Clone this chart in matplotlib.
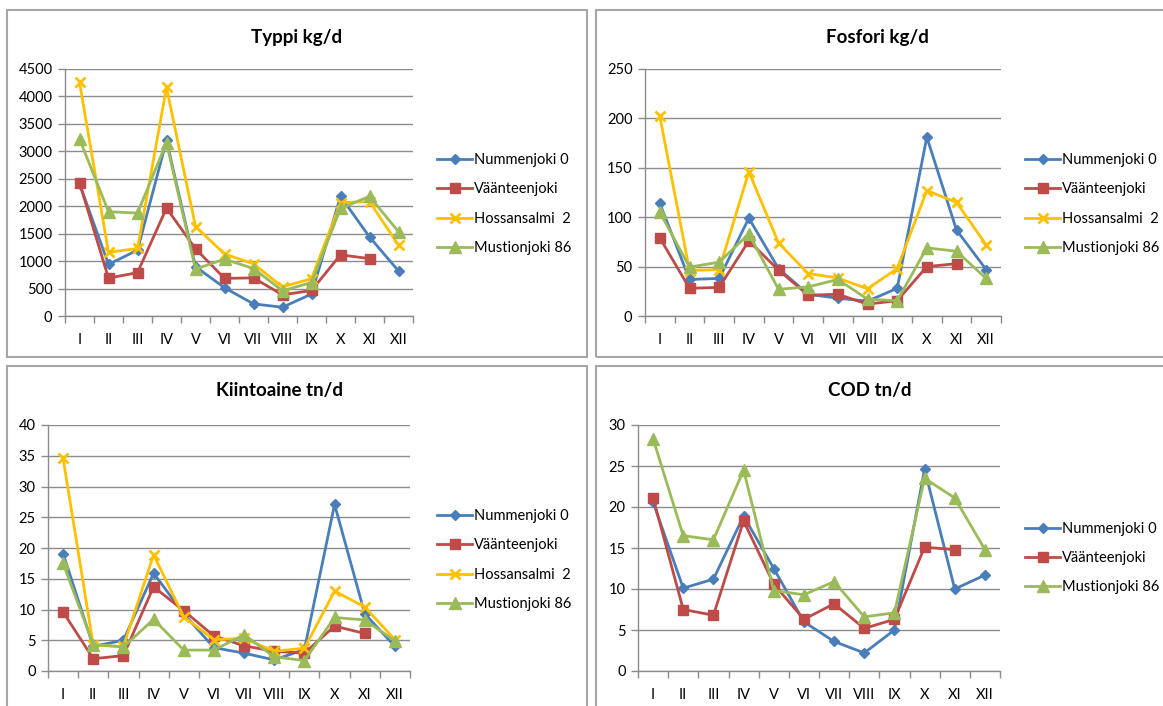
import numpy as np
import matplotlib
matplotlib.use('Agg')
import matplotlib.pyplot as plt
from matplotlib.patches import Rectangle

plt.rcParams['font.family'] = ['Lato', 'DejaVu Sans']

months = ['I', 'II', 'III', 'IV', 'V', 'VI', 'VII', 'VIII', 'IX', 'X', 'XI', 'XII']
nan = np.nan

# Typpi kg/d
typpi_numm = [2410, 940, 1200, 3200, 900, 515, 220, 160, 400, 2180, 1440, 820]
typpi_vaan = [2430, 690, 790, 1965, 1225, 685, 695, 385, 465, 1115, 1045, nan]
typpi_hoss = [4260, 1160, 1230, 4165, 1630, 1130, 950, 530, 680, 2065, 2085, 1290]
typpi_must = [3225, 1900, 1875, 3160, 855, 1035, 865, 460, 610, 1960, 2180, 1535]

# Fosfori kg/d
fosf_numm = [114, 37, 38, 99, 48, 22, 18, 15, 28, 181, 87, 47]
fosf_vaan = [79, 28, 29, 76, 46.5, 21, 22, 12, 15.5, 50, 53, nan]
fosf_hoss = [202, 46, 47, 146, 74, 43, 38.5, 27.5, 48, 127, 115, 72]
fosf_must = [105, 49.5, 54.5, 83, 27, 29.5, 37, 17, 15.5, 69, 65.5, 38]

# Kiintoaine tn/d
kiin_numm = [19.1, 4.0, 5.0, 15.9, 9.3, 3.8, 2.9, 1.8, 3.5, 27.1, 9.3, 4.0]
kiin_vaan = [9.6, 2.0, 2.5, 13.7, 9.8, 5.7, 4.1, 3.2, 2.9, 7.3, 6.1, nan]
kiin_hoss = [34.6, 4.2, 4.0, 18.9, 8.8, 5.1, 5.3, 3.2, 3.7, 13.0, 10.4, 5.1]
kiin_must = [17.5, 4.3, 3.9, 8.4, 3.4, 3.4, 5.9, 2.3, 1.7, 8.7, 8.3, 4.9]

# COD tn/d
cod_numm = [20.6, 10.1, 11.2, 18.9, 12.5, 6.0, 3.6, 2.2, 5.0, 24.6, 10.0, 11.7]
cod_vaan = [21.1, 7.5, 6.8, 18.3, 10.6, 6.3, 8.2, 5.2, 6.3, 15.1, 14.8, nan]
cod_must = [28.3, 16.5, 16.0, 24.5, 9.8, 9.3, 10.9, 6.6, 7.1, 23.5, 21.1, 14.8]

names = ['Nummenjoki 0', 'Väänteenjoki', 'Hossansalmi  2', 'Mustionjoki 86']
colors = ['#4A7EBB', '#BE4B48', '#FFC000', '#9BBB59']
markers = ['D', 's', 'x', '^']
msizes = [5, 7, 7, 9]

W, H = 1163, 706
fig = plt.figure(figsize=(W / 100, H / 100), dpi=100)

def px(l, t, r, b):
    return [l / W, 1 - b / H, (r - l) / W, (b - t) / H]

# chart frames
for (l, t, r, b) in [(7, 10, 587, 357), (596, 10, 1170, 357),
                     (7, 366, 587, 720), (596, 366, 1170, 720)]:
    fig.add_artist(Rectangle((l / W, 1 - b / H), (r - l) / W, (b - t) / H,
                             transform=fig.transFigure, fill=False,
                             ec='#A6A6A6', lw=1.5))

panels = [
    ('Typpi kg/d', px(65, 69, 413, 316), 4500, 500,
     [typpi_numm, typpi_vaan, typpi_hoss, typpi_must], [0, 1, 2, 3], (437, 204)),
    ('Fosfori kg/d', px(645, 69, 1001, 316), 250, 50,
     [fosf_numm, fosf_vaan, fosf_hoss, fosf_must], [0, 1, 2, 3], (1025, 204)),
    ('Kiintoaine tn/d', px(48, 425, 410, 671), 40, 5,
     [kiin_numm, kiin_vaan, kiin_hoss, kiin_must], [0, 1, 2, 3], (437, 560)),
    ('COD tn/d', px(638, 425, 1000, 671), 30, 5,
     [cod_numm, cod_vaan, cod_must], [0, 1, 3], (1025, 558)),
]

x = np.arange(12)
for title, pos, ymax, step, series, idx, legpos in panels:
    ax = fig.add_axes(pos)
    for s, i in zip(series, idx):
        ax.plot(x, s, color=colors[i], marker=markers[i], ms=msizes[i],
                mew=2 if markers[i] == 'x' else 1, lw=2, label=names[i],
                solid_joinstyle='round')
    ax.set_xlim(-0.5, 11.5)
    ax.set_ylim(0, ymax)
    ax.set_yticks(np.arange(0, ymax + step / 2, step))
    ax.yaxis.grid(True, color='#8C8C8C', lw=1)
    ax.set_axisbelow(True)
    ax.set_xticks(x)
    ax.set_xticklabels(months)
    ax.set_xticks(np.arange(-0.5, 12, 1), minor=True)
    ax.tick_params(axis='x', which='major', length=0, pad=12, labelsize=10.5)
    ax.tick_params(axis='x', which='minor', length=5, color='#8C8C8C', width=1)
    ax.tick_params(axis='y', length=5, color='#8C8C8C', width=1, labelsize=10.5, pad=4)
    for sp in ['top', 'right']:
        ax.spines[sp].set_visible(False)
    for sp in ['left', 'bottom']:
        ax.spines[sp].set_color('#8C8C8C')
        ax.spines[sp].set_linewidth(1)
    # title centred in the chart frame
    ty = 37 if pos[1] > 0.5 else 391
    left_px = pos[0] * W
    fig.text((left_px + 232) / W, 1 - ty / H, title, ha='center', va='center',
             fontsize=13.5, fontweight='bold')
    ax.legend(loc='center left', bbox_to_anchor=(legpos[0] / W, 1 - legpos[1] / H),
              bbox_transform=fig.transFigure, frameon=False, fontsize=10.5,
              handlelength=2.4, handletextpad=0.15, labelspacing=1.05,
              borderaxespad=0, borderpad=0)

fig.savefig('out.png', dpi=100)
